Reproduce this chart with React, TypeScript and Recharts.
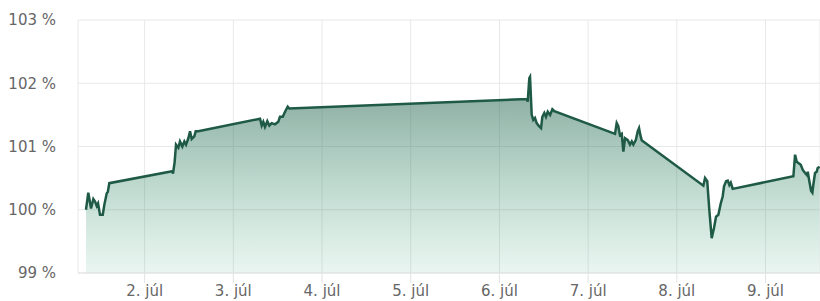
import { AreaChart, Area, XAxis, YAxis, CartesianGrid } from 'recharts';

// time in days of July (fractional), value in %
const times = [
    1.339, 1.365, 1.396, 1.422, 1.441, 1.460, 1.475, 1.497, 1.528, 1.546, 1.573, 1.585, 1.602,
    2.312, 2.320, 2.338, 2.354, 2.380, 2.399, 2.425, 2.448, 2.467, 2.493, 2.512, 2.531, 2.560, 2.576, 2.605,
    3.301, 3.320, 3.338, 3.357, 3.383, 3.406, 3.433, 3.470, 3.507, 3.526, 3.557, 3.583, 3.613, 3.631,
    6.308, 6.319, 6.337, 6.345, 6.364, 6.382, 6.401, 6.420, 6.446, 6.469, 6.484, 6.506, 6.525, 6.545, 6.571, 6.597, 6.619,
    7.303, 7.322, 7.340, 7.359, 7.379, 7.397, 7.416, 7.447, 7.472, 7.492, 7.510, 7.537, 7.559, 7.574, 7.589, 7.604, 7.622,
    8.299, 8.318, 8.343, 8.366, 8.393, 8.419, 8.442, 8.468, 8.495, 8.517, 8.532, 8.555, 8.574, 8.592, 8.608, 8.630,
    9.314, 9.333, 9.352, 9.370, 9.397, 9.420, 9.446, 9.465, 9.476, 9.494, 9.513, 9.528, 9.539, 9.558, 9.577, 9.588, 9.610,
];

const values = [
    100.00, 100.27, 100.02, 100.17, 100.13, 100.06, 100.10, 99.92, 99.92, 100.08, 100.26, 100.28, 100.42,
    100.61, 100.57, 100.75, 101.03, 100.98, 101.08, 101.00, 101.08, 101.03, 101.13, 101.24, 101.12, 101.16, 101.24, 101.24,
    101.44, 101.33, 101.39, 101.31, 101.40, 101.33, 101.37, 101.35, 101.39, 101.47, 101.47, 101.55, 101.63, 101.60,
    101.75, 101.71, 102.08, 102.10, 101.50, 101.42, 101.45, 101.37, 101.32, 101.29, 101.47, 101.53, 101.47, 101.55, 101.50, 101.59, 101.56,
    101.20, 101.37, 101.32, 101.18, 101.20, 100.92, 101.13, 101.10, 101.03, 101.08, 101.03, 101.10, 101.24, 101.29, 101.18, 101.10, 101.08,
    100.38, 100.50, 100.45, 100.00, 99.55, 99.71, 99.89, 99.92, 100.10, 100.21, 100.37, 100.45, 100.46, 100.39, 100.43, 100.33,
    100.53, 100.87, 100.76, 100.74, 100.71, 100.63, 100.58, 100.55, 100.60, 100.45, 100.30, 100.27, 100.40, 100.58, 100.60, 100.66, 100.68,
];

const xTicks = [2, 3, 4, 5, 6, 7, 8, 9];
const yTicks = [99, 100, 101, 102, 103];

const data = times.map((t, i) => ({ t, v: values[i] }));

const lineColor = '#1e5a46';
const tickStyle = { fill: '#666', fontSize: 15, fontFamily: 'DejaVu Sans' };

export default function App() {
    return (
        <div style={{ position: 'absolute', left: 0, top: 0, background: '#fff' }}>
            <AreaChart width={820} height={301} data={data} margin={{ top: 20, right: 0, bottom: 0, left: 0 }}>
                <defs>
                    <linearGradient id="fillV" x1="0" y1="0" x2="0" y2="1">
                        <stop offset="0%" stopColor="#1e5a46" stopOpacity={0.55} />
                        <stop offset="100%" stopColor="#3aa57a" stopOpacity={0.11} />
                    </linearGradient>
                </defs>
                <CartesianGrid stroke="#e8e8e8" />
                <XAxis
                    dataKey="t"
                    type="number"
                    domain={[1.249, 9.614]}
                    allowDataOverflow
                    ticks={xTicks}
                    tickFormatter={(d) => `${d}. júl`}
                    height={28}
                    tickSize={10}
                    tickMargin={2}
                    stroke="#e3e3e3"
                    tick={tickStyle}
                />
                <YAxis
                    type="number"
                    domain={[99, 103]}
                    ticks={yTicks}
                    tickFormatter={(v) => `${v} %`}
                    width={78}
                    axisLine={false}
                    tickLine={false}
                    tickSize={6}
                    tickMargin={16}
                    tick={tickStyle}
                />
                <Area
                    type="linear"
                    dataKey="v"
                    baseValue={99}
                    stroke={lineColor}
                    strokeWidth={2.5}
                    fill="url(#fillV)"
                    fillOpacity={1}
                    dot={false}
                    activeDot={false}
                    isAnimationActive={false}
                />
            </AreaChart>
        </div>
    );
}
